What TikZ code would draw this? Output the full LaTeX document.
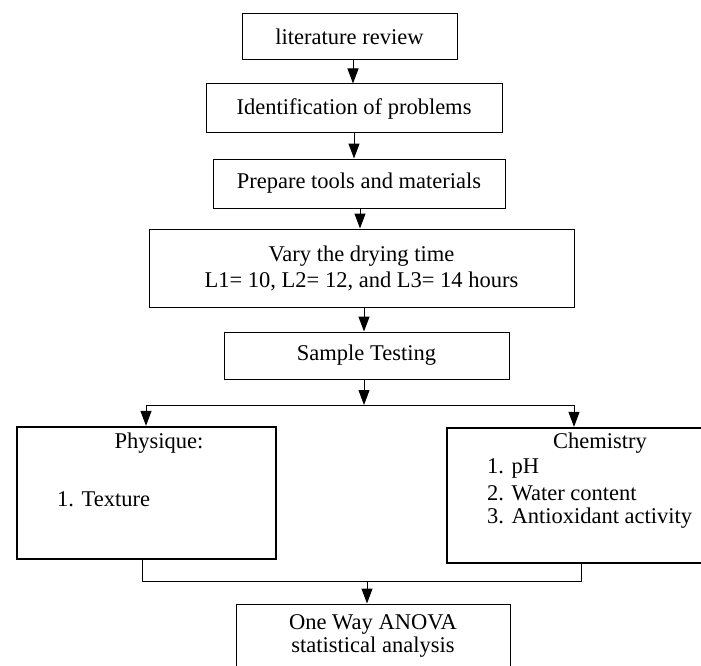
\documentclass[tikz,border=0pt]{standalone}
\usepackage{fontspec}
\setmainfont{Liberation Serif}
\usetikzlibrary{arrows.meta}
\begin{document}
\begin{tikzpicture}[x=1pt,y=-1pt,
  txt/.style={font=\fontsize{22.5}{26}\selectfont, inner sep=0pt},
  box/.style={draw, line width=1pt, inner sep=0pt, align=center, txt},
  bigbox/.style={draw, line width=2.3pt, inner sep=0pt},
  link/.style={draw, line width=1pt},
  arr/.style={link, -{Triangle[width=11pt,length=15pt]}}]
\useasboundingbox (0,0) rectangle (701,666);
% boxes
\node[box, minimum width=215, minimum height=46] (b1) at (349.5,36.5) {literature review};
\node[box, minimum width=296, minimum height=49] (b2) at (354,108.5) {Identification of problems};
\node[box, minimum width=292, minimum height=49] (b3) at (359,183.5) {Prepare tools and materials};
\node[box, minimum width=425, minimum height=78] (b4) at (361.5,268) {Vary the drying time\\L1= 10, L2= 12, and L3= 14 hours};
\node[box, minimum width=285, minimum height=47] (b5) at (366.5,355.5) {Sample Testing};
\node[bigbox, minimum width=259, minimum height=132] (phys) at (146.5,493) {};
\node[bigbox, minimum width=256, minimum height=135] (chem) at (575,495.5) {};
\node[box, minimum width=274, minimum height=64, align=center, font=\fontsize{22.5}{23.5}\selectfont] (anova) at (373,636) {One Way ANOVA\\statistical analysis};
% texts inside the two result boxes
\node[txt] (pt) at (159,443) {Physique:};
\node[txt, anchor=west] (p1) at (57,499) {1. Texture};
\node[txt] (ct) at (600,443) {Chemistry};
\node[txt, anchor=west] (c1) at (487,468) {1. pH};
\node[txt, anchor=west] (c2) at (487,493) {2. Water content};
\node[txt, anchor=west] (c3) at (487,518) {3. Antioxidant activity};
% arrow columns
\coordinate (a1) at (353,0);
\coordinate (a2) at (354,0);
\coordinate (a3) at (360,0);
\coordinate (a4) at (364,0);
\coordinate (s) at (364,405);
\coordinate (jl) at (146,405);
\coordinate (jr) at (574,405);
\coordinate (ml) at (142,581);
\coordinate (mr) at (581,581);
\coordinate (mm) at (367,581);
\draw[arr] (b1.south -| a1) -- (b2.north -| a1);
\draw[arr] (b2.south -| a2) -- (b3.north -| a2);
\draw[arr] (b3.south -| a3) -- (b4.north -| a3);
\draw[arr] (b4.south -| a4) -- (b5.north -| a4);
\draw[arr] (b5.south -| s) -- (s);
\draw[link] (jl) -- (jr);
\draw[arr] (jl) -- (jl |- phys.north);
\draw[arr] (jr) -- (jr |- chem.north);
\draw[link] (ml |- phys.south) -- (ml) -- (mr) -- (mr |- chem.south);
\draw[arr] (mm) -- (mm |- anova.north);
\end{tikzpicture}
\end{document}
